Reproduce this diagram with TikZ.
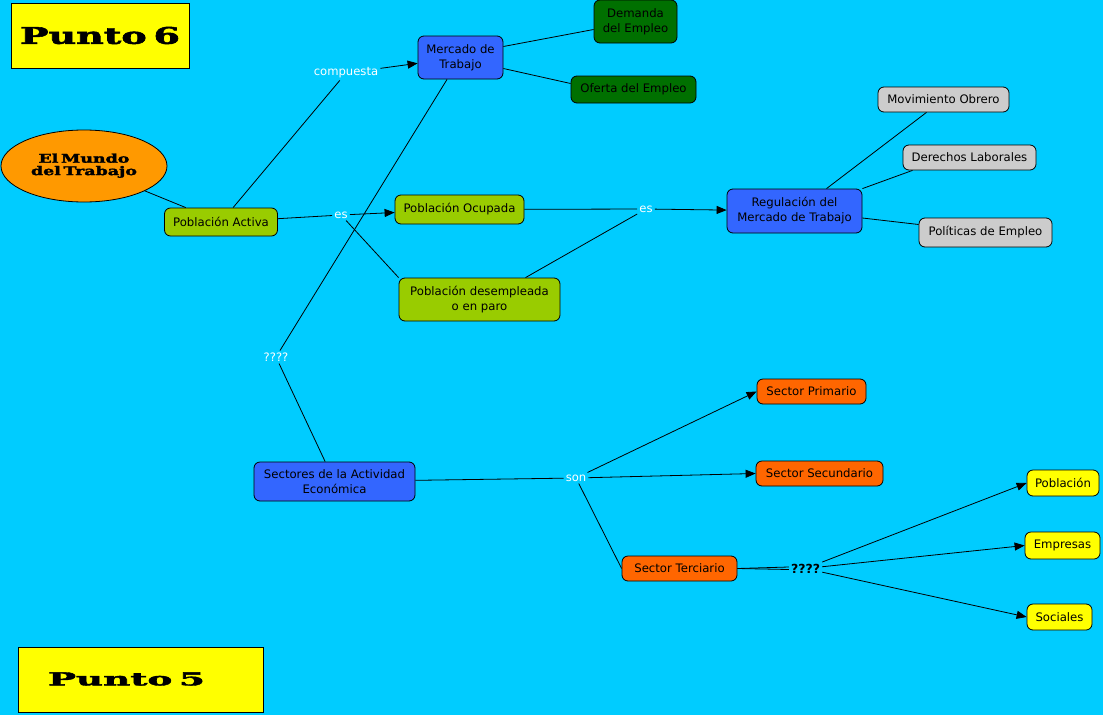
\documentclass[tikz,border=0pt]{standalone}
\usepackage{fontspec}
\setmainfont{DejaVu Sans}
\newfontfamily\titlefont[FakeBold=2]{DejaVu Serif Bold}
\usetikzlibrary{arrows.meta,shapes.geometric}
\definecolor{bg}{HTML}{00CCFF}
\definecolor{lgreen}{HTML}{99CC00}
\definecolor{dgreen}{HTML}{007000}
\definecolor{nblue}{HTML}{3366FF}
\definecolor{ngray}{HTML}{CCCCCC}
\definecolor{norange}{HTML}{FF6600}
\definecolor{eorange}{HTML}{FF9900}
\definecolor{nyellow}{HTML}{FFFF00}
\begin{document}
\begin{tikzpicture}[x=1pt,y=-1pt,
  box/.style={draw=black, line width=0.8pt, rounded corners=6pt, align=center,
    font=\fontsize{11.7}{15}\selectfont, inner sep=0pt},
  lbl/.style={font=\fontsize{11.6}{14}\selectfont, text=white, inner sep=2pt},
  link/.style={line width=0.8pt, draw=black},
  arr/.style={link, -{Triangle[length=10pt,width=8pt]}},
  titlebox/.style={draw=black, line width=0.8pt, fill=nyellow, inner sep=0pt}]
\fill[bg] (0,0) rectangle (1103,715);
\useasboundingbox (0,0) rectangle (1103,715);

% titles
\node[titlebox, minimum width=178, minimum height=65] (p6) at (100,35.5)
  {\resizebox{160pt}{17pt}{\titlefont Punto\kern0.18em6}};
\node[titlebox, minimum width=245, minimum height=65] (p5) at (140.5,679.5) {};
\node[inner sep=0pt] (p5t) at (126.5,679) {\resizebox{157pt}{13pt}{\titlefont Punto\kern0.18em5}};

% main concept
\node[ellipse, draw=black, line width=0.8pt, fill=eorange, minimum width=166, minimum height=72, inner sep=0pt] (mundo) at (84,166)
  {\scalebox{1.45}[1]{\titlefont\fontsize{12}{11}\selectfont\begin{tabular}{@{}c@{}}El\kern0.15em Mundo\\del\kern0.15em Trabajo\end{tabular}}};

% nodes
\node[box, fill=lgreen, minimum width=113, minimum height=28] (pa) at (221,222) {Población Activa};
\node[box, fill=nblue, minimum width=85, minimum height=43] (merc) at (460.5,57.5) {Mercado de\\Trabajo};
\node[box, fill=dgreen, minimum width=83, minimum height=43] (dem) at (635.5,21.5) {Demanda\\del Empleo};
\node[box, fill=dgreen, minimum width=125, minimum height=27] (of) at (633.5,89.5) {Oferta del Empleo};
\node[box, fill=lgreen, minimum width=129, minimum height=29] (po) at (459.5,209.5) {Población Ocupada};
\node[box, fill=lgreen, minimum width=161, minimum height=43] (desemp) at (479.5,299.5) {Población desempleada\\o en paro};
\node[box, fill=nblue, minimum width=135, minimum height=44] (reg) at (794.5,211) {Regulación del\\Mercado de Trabajo};
\node[box, fill=ngray, minimum width=131, minimum height=25] (mov) at (943.5,99.5) {Movimiento Obrero};
\node[box, fill=ngray, minimum width=133, minimum height=25] (der) at (969.5,157.5) {Derechos Laborales};
\node[box, fill=ngray, minimum width=133, minimum height=29] (pol) at (985.5,232.5) {Políticas de Empleo};
\node[box, fill=nblue, minimum width=161, minimum height=39] (sect) at (334.5,481.5) {Sectores de la Actividad\\Económica};
\node[box, fill=norange, minimum width=109, minimum height=25] (prim) at (811.5,391.5) {Sector Primario};
\node[box, fill=norange, minimum width=127, minimum height=25] (secu) at (819.5,473.5) {Sector Secundario};
\node[box, fill=norange, minimum width=115, minimum height=25] (terc) at (679.5,568.5) {Sector Terciario};
\node[box, fill=nyellow, minimum width=72, minimum height=26] (pob) at (1063,483) {Población};
\node[box, fill=nyellow, minimum width=75, minimum height=27] (emp) at (1062.5,545.5) {Empresas};
\node[box, fill=nyellow, minimum width=65, minimum height=26] (soc) at (1059.5,617) {Sociales};

% link labels
\node[lbl] (comp) at (346,73) {compuesta};
\node[lbl] (es1) at (341,215) {es};
\node[lbl] (es2) at (646,209) {es};
\node[lbl] (q1) at (276,357) {????};
\node[lbl] (son) at (576,478) {son};
\node[lbl, text=black, font=\bfseries\fontsize{12.5}{14}\selectfont] (q2) at (805.5,568.5) {????};

% connectors
\draw[link] (mundo) -- (pa);
\draw[link] (pa) -- (comp);
\draw[arr] (comp) -- (merc);
\draw[link] (pa) -- (es1);
\draw[arr] (es1) -- (po);
\draw[link] (es1) -- (desemp.north west);
\draw[link] ([yshift=11pt]merc.east) -- ([yshift=-8pt]dem.west);
\draw[link] ([yshift=-11pt]merc.east) -- ([yshift=6pt]of.west);
\draw[link] (merc) -- (q1);
\draw[link] (q1) -- (sect);
\draw[link] (po) -- (es2);
\draw[link] ([xshift=46pt]desemp.north) -- (es2);
\draw[arr] (es2) -- (reg);
\draw[link] ([xshift=32pt]reg.north) -- ([xshift=-17pt]mov.south);
\draw[link] (reg.north east) -- ([xshift=-57pt]der.south);
\draw[link] ([yshift=-7pt]reg.east) -- ([yshift=8pt]pol.west);
\draw[link] (sect) -- (son);
\draw[arr] (son) -- (prim.west);
\draw[arr] (son) -- (secu.west);
\draw[link] (son) -- (terc.west);
\draw[link] (terc.east) -- ([yshift=1.5pt]q2.west);
\draw[link] (terc.east) -- ([yshift=-1pt]q2.west);
\draw[arr] (q2) -- (pob.west);
\draw[arr] (q2) -- (emp.west);
\draw[arr] (q2) -- (soc.west);
\end{tikzpicture}
\end{document}
